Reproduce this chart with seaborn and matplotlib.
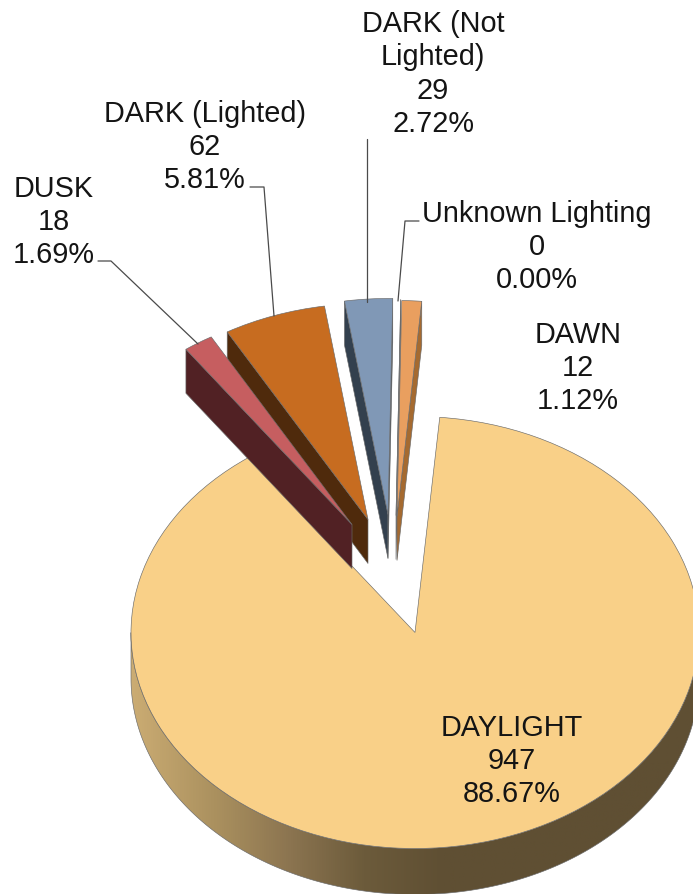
#!/usr/bin/env python3
# -*- coding: utf-8 -*-
"""
Crashes by lighting condition, exploded 3D style pie
"""

import numpy as np
import seaborn as sns
import matplotlib
matplotlib.use("Agg")
import matplotlib.pyplot as plt
from matplotlib.colors import LinearSegmentedColormap
from matplotlib.patches import Polygon

# -----------------------------------------------------------------------------
# Data
# -----------------------------------------------------------------------------

names = ["DAYLIGHT", "DUSK", "DARK (Lighted)", "DARK (Not\nLighted)", "Unknown Lighting", "DAWN"]
counts = [947, 18, 62, 29, 0, 12]

# -----------------------------------------------------------------------------
# Plotting attributes
# -----------------------------------------------------------------------------

sns.set_theme(style="white")
plt.rcParams["font.family"] = ["Liberation Sans", "DejaVu Sans"]

top_colors = ["#F9D088", "#C65E60", "#C76C20", "#8098B6", "#C9D3DC", "#E99F5F"]
wall_colors = ["#5F4F33", "#512124", "#4F2A0C", "#33404E", "#8A949C", "#A56A30"]
layer = [1, 5, 3, 7, 9, 11]
edge = "#6A6A6A"
lw = 0.45
font_size = 20.8
line_spacing = 1.24

# Pie placement in image pixels
width, height = 693, 895
cx, cy = 415, 633.5
rx, ry = 284, 216
depth = 44 / ry
depth_main = 46 / ry

# Slice shift away from the centre, in pixels (right, up)
shift_x = [0, -63, -47, -27, -19, -18]
shift_y = [0, 108, 113, 118, 117, 116]

# Label centres in pixels
label_x = [512, 54, 205, 433, 537, 578]
label_y = [761, 222, 147, 74, 247, 368]

# Leader lines in pixels, by slice index
leaders = {
    1: [(98, 262), (111, 262), (198, 345)],
    2: [(250, 188), (264, 188), (274, 317)],
    3: [(367, 140), (367, 303)],
    4: [(419, 222), (405, 222), (398, 302)],
}


def px(x, y):
    return (x - cx) / rx, (cy - y) / ry


# -----------------------------------------------------------------------------
# Pie
# -----------------------------------------------------------------------------

fig = plt.figure(figsize=(width / 100, height / 100), dpi=100)
ax = fig.add_axes([0, 0, 1, 1])

wedges, _ = ax.pie(counts, colors=top_colors, startangle=85, counterclock=False,
                   wedgeprops={"edgecolor": edge, "linewidth": lw})

# Move exploded slices and draw their side walls
for i, w in enumerate(wedges):
    w.set_center((shift_x[i] / rx, shift_y[i] / ry))
    w.set_zorder(layer[i] + 1)
    x0, y0 = w.center
    # Start edge (clockwise) and end edge, only drawn when they face the viewer
    for theta, visible in [(w.theta2, np.cos(np.radians(w.theta2)) < 0),
                           (w.theta1, np.cos(np.radians(w.theta1)) > 0)]:
        if not visible or i == 0:
            continue
        xe = x0 + np.cos(np.radians(theta))
        ye = y0 + np.sin(np.radians(theta))
        ax.add_patch(Polygon([(x0, y0), (xe, ye), (xe, ye - depth), (x0, y0 - depth)],
                             closed=True, facecolor=wall_colors[i], edgecolor=edge,
                             linewidth=lw, zorder=layer[i]))

# Curved wall of the big slice with its left to right shading
t = np.radians(np.linspace(180, 360, 200))
band = np.concatenate([np.column_stack([np.cos(t), np.sin(t)]),
                       np.column_stack([np.cos(t), np.sin(t) - depth_main])[::-1]])
shade = LinearSegmentedColormap.from_list("shade", [(0.0, "#CBAC73"), (0.145, "#AB915F"),
                                                    (0.28, "#8B7450"), (0.41, "#6C5B3B"),
                                                    (0.55, "#5F4F33"), (1.0, "#5F4F33")])
outline = Polygon(band, closed=True, facecolor="none", edgecolor=edge, linewidth=lw, zorder=0.5)
ax.add_patch(outline)
img = ax.imshow(np.linspace(0, 1, 512)[None, :], extent=(-1, 1, -1 - depth_main, 0),
                cmap=shade, aspect="auto", zorder=0.2)
img.set_clip_path(outline)

ax.set_xlim((0 - cx) / rx, (width - cx) / rx)
ax.set_ylim((cy - height) / ry, cy / ry)
ax.set_aspect("auto")
ax.axis("off")

# -----------------------------------------------------------------------------
# Labels
# -----------------------------------------------------------------------------

total = sum(counts)
for i, name in enumerate(names):
    x, y = px(label_x[i], label_y[i])
    ax.text(x, y, "{}\n{}\n{:.2%}".format(name, counts[i], counts[i] / total),
            ha="center", va="center", multialignment="center", fontsize=font_size,
            linespacing=line_spacing, color="#141414", zorder=20)

for pts in leaders.values():
    xy = np.array([px(*p) for p in pts])
    ax.plot(xy[:, 0], xy[:, 1], color="#4A4A4A", lw=0.9, zorder=20)

plt.savefig("out.png", dpi=100)
